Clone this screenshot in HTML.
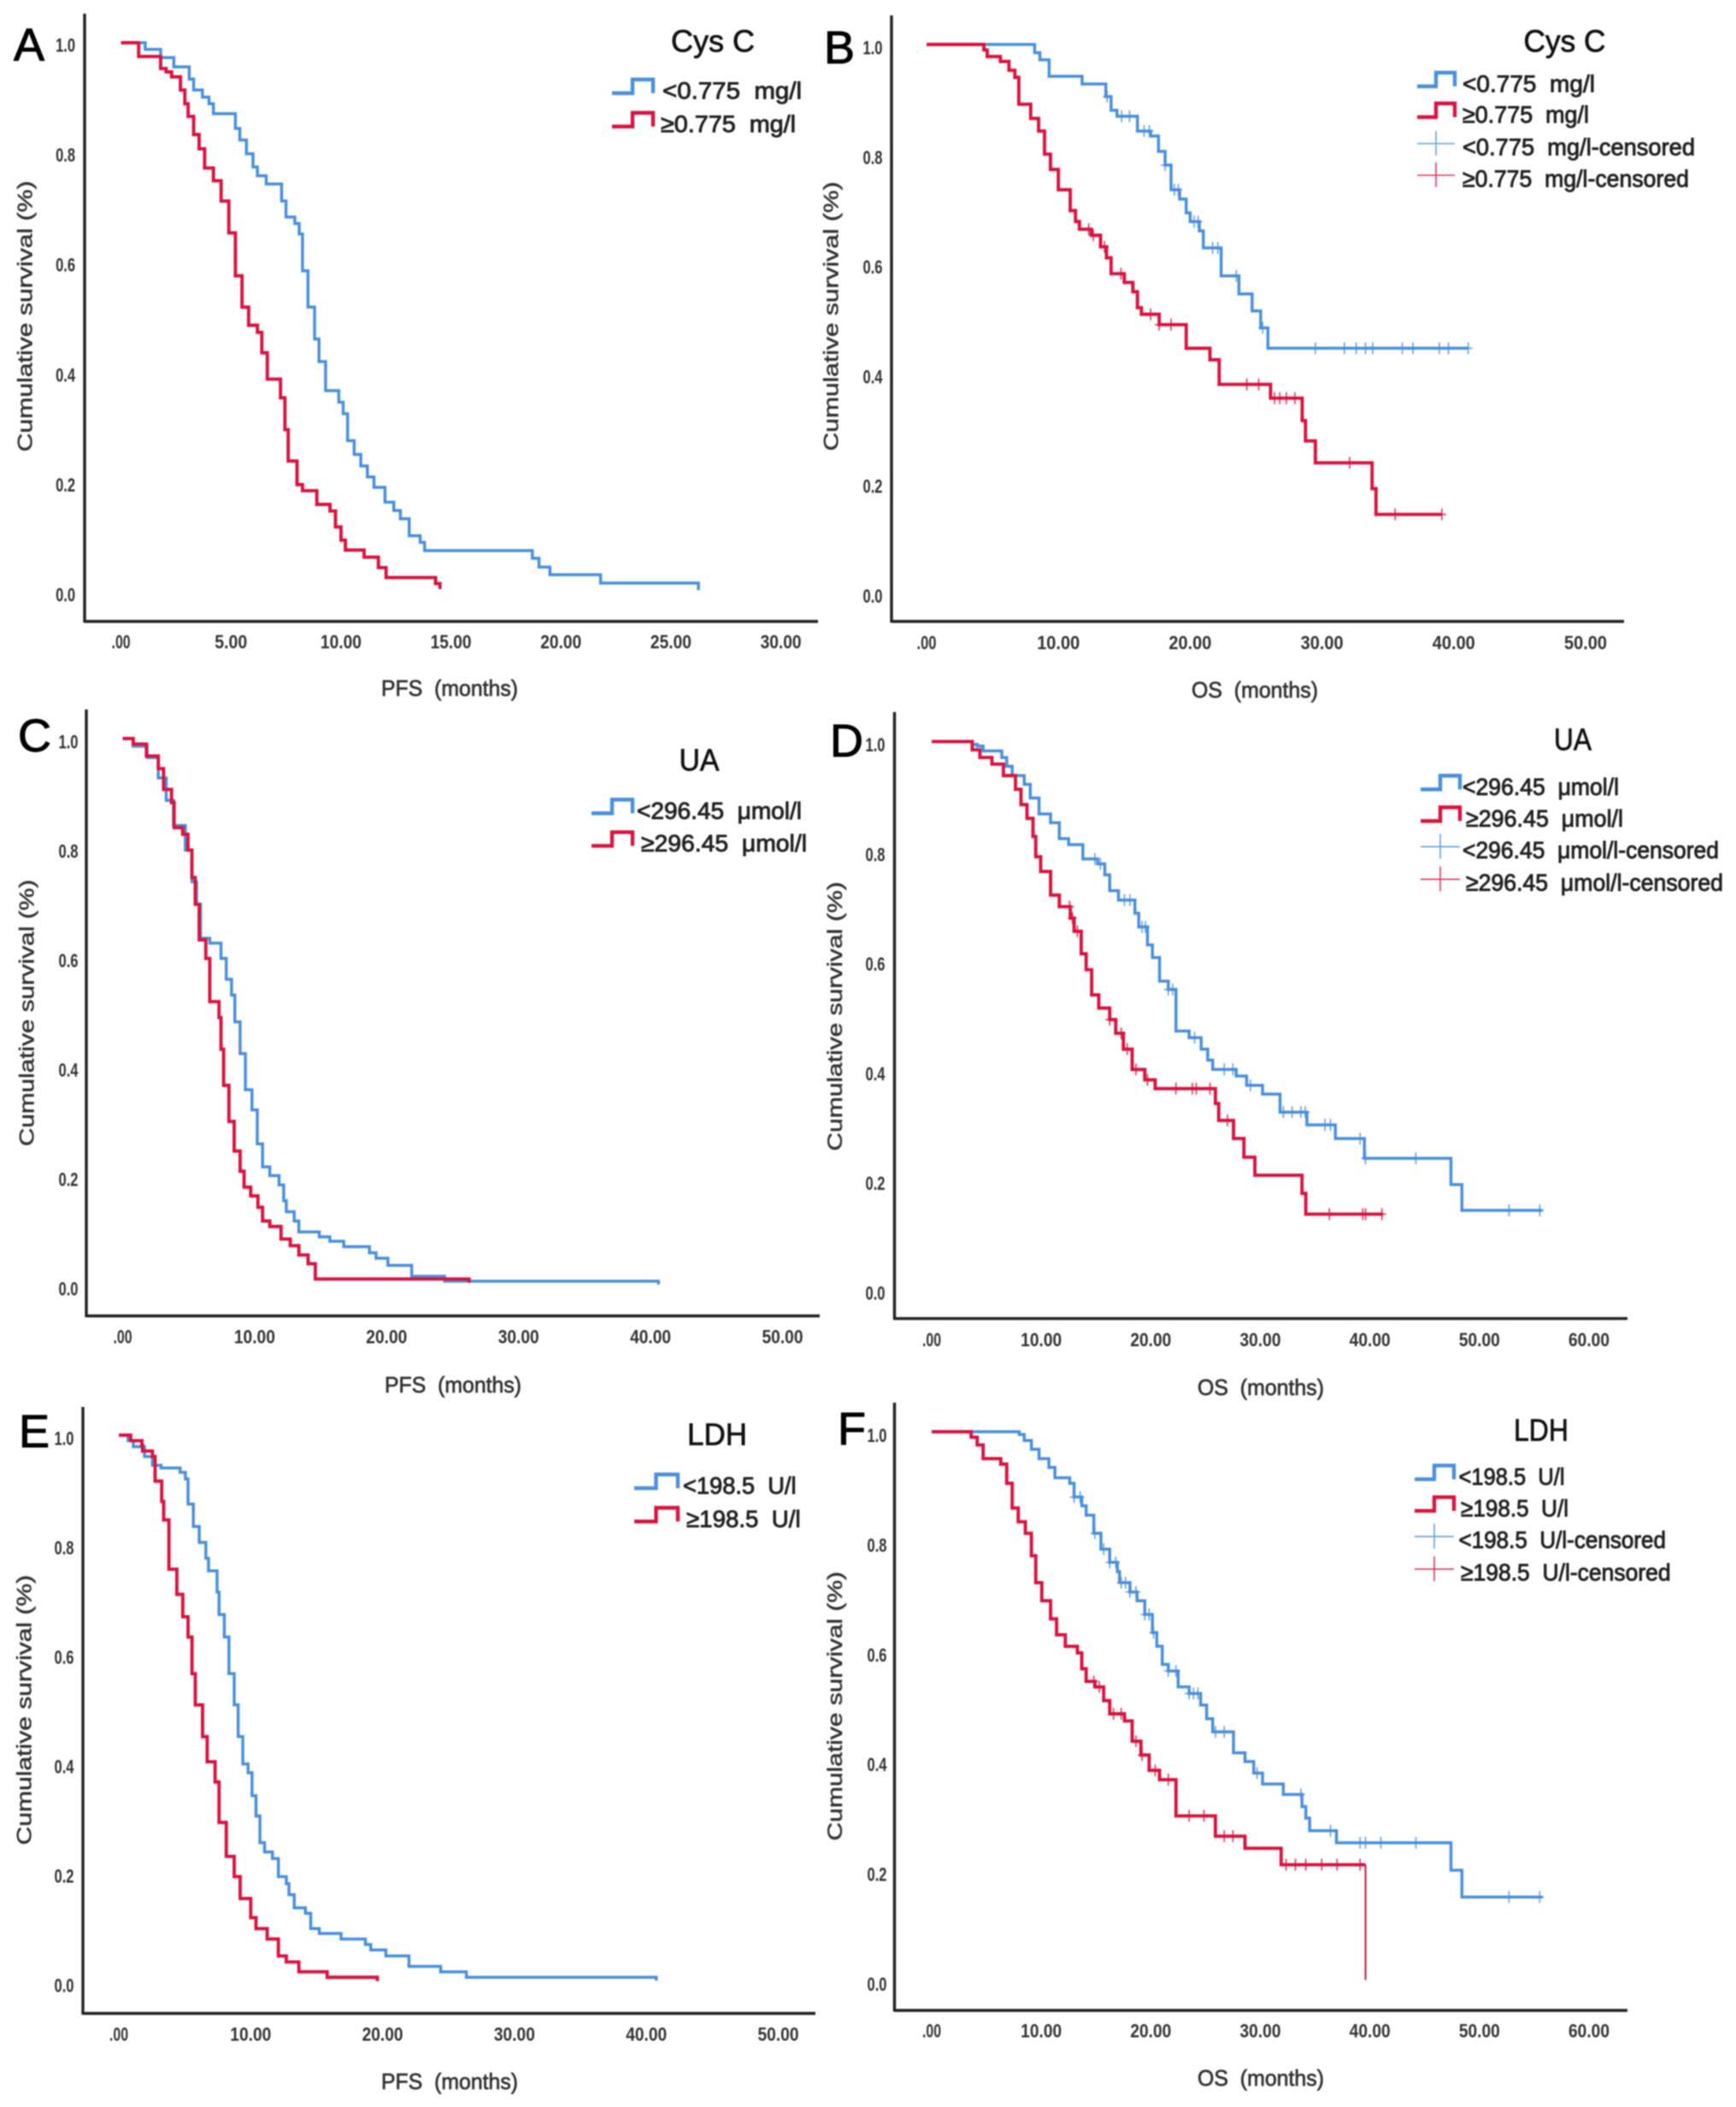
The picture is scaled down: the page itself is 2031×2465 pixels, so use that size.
<!DOCTYPE html>
<html lang="en">
<head>
<meta charset="utf-8">
<title>Kaplan-Meier survival curves</title>
<style>
html,body{margin:0;padding:0;background:#fff;}
svg{display:block;filter:blur(0.85px);}
text{font-family:"Liberation Sans","DejaVu Sans",sans-serif;}
</style>
</head>
<body>
<svg id="figure" xmlns="http://www.w3.org/2000/svg" width="2031" height="2465" viewBox="0 0 2031 2465"></svg>
<script>
/* ---------- tick values ---------- */
const yTicks = [0, 0.2, 0.4, 0.6, 0.8, 1.0];
const yTickLabels = ["0.0", "0.2", "0.4", "0.6", "0.8", "1.0"];
const xTicksA = [0, 5, 10, 15, 20, 25, 30];
const xTickLabelsA = [".00", "5.00", "10.00", "15.00", "20.00", "25.00", "30.00"];
const xTicks50 = [0, 10, 20, 30, 40, 50];
const xTickLabels50 = [".00", "10.00", "20.00", "30.00", "40.00", "50.00"];
const xTicks60 = [0, 10, 20, 30, 40, 50, 60];
const xTickLabels60 = [".00", "10.00", "20.00", "30.00", "40.00", "50.00", "60.00"];

/* ---------- panel A: PFS by Cys C ---------- */
const aTimesLow = [1.1,1.8,2.4,3.1,3.3,3.7,4.0,4.2,5.2,5.4,5.7,6.0,6.2,6.6,7.3,7.5,7.9,8.1,8.25,8.5,8.8,9.0,9.3,9.9,10.1,10.3,10.6,10.9,11.2,11.5,12.0,12.4,12.7,13.1,13.6,13.8,18.7,19.0,19.5,21.8,26.25];
const aSurvLow = [.988,.973,.956,.934,.914,.901,.889,.871,.844,.823,.798,.774,.758,.743,.712,.683,.671,.652,.585,.519,.461,.420,.367,.346,.325,.276,.251,.230,.210,.191,.164,.149,.134,.103,.091,.076,.062,.046,.032,.017,.004];
const aTimesHigh = [.8,1.8,2.05,2.3,2.7,2.9,3.05,3.3,3.55,3.8,4.2,4.55,4.9,5.2,5.5,5.8,6.2,6.4,6.65,7.25,7.45,7.6,8.0,8.25,8.9,9.5,9.75,10.0,10.2,11.05,11.7,12.05,14.3,14.5];
const aSurvHigh = [.975,.953,.947,.938,.914,.889,.866,.833,.807,.772,.749,.712,.654,.576,.519,.486,.473,.436,.388,.354,.296,.239,.196,.185,.160,.148,.119,.095,.077,.064,.045,.027,.016,.006];

/* ---------- panel B: OS by Cys C ---------- */
const bTimesLow = [8.2,8.6,9.3,11.8,13.6,14.0,14.45,16.0,17.0,17.6,18.1,18.55,19.2,19.7,20.0,20.7,21.0,22.35,23.7,24.7,25.35,25.9,41.1];
const bSurvLow = [.985,.972,.942,.928,.905,.880,.869,.842,.833,.805,.780,.735,.718,.693,.677,.660,.629,.578,.545,.514,.483,.446,.446];
const bCensLow = [13.7,14.8,15.4,16.5,16.9,18.1,18.8,19.1,20.3,20.6,21.7,22.1,23.5,25.5,29.5,31.7,32.6,33.3,33.85,36.1,36.9,38.9,39.6,41.1];
const bTimesHigh = [4.35,4.6,5.6,6.25,6.7,7.0,7.9,8.5,8.95,9.4,10.0,10.9,11.3,11.6,12.5,13.2,13.65,14.0,15.0,15.65,16.0,16.3,17.65,19.7,21.5,22.2,26.1,28.5,28.75,29.5,33.8,34.1,39.1];
const bSurvHigh = [.99,.978,.969,.953,.94,.891,.865,.842,.80,.772,.735,.697,.677,.663,.652,.631,.611,.582,.566,.549,.520,.508,.489,.446,.425,.380,.355,.314,.277,.237,.190,.143,.143];
const bCensHigh = [12.3,12.65,13.5,14.75,17.0,17.65,18.55,24.3,25.2,26.4,26.8,27.3,27.95,32.1,35.55,39.1];

/* ---------- panel C: PFS by UA ---------- */
const cTimesLow = [.8,1.85,2.7,3.3,3.85,4.75,5.25,5.6,5.9,6.6,7.45,7.85,8.25,8.5,8.9,9.3,9.8,10.2,10.6,11.15,11.85,12.2,12.4,13.0,13.35,14.9,15.7,16.75,18.7,19.2,20.1,21.9,24.4,40.6];
const cSurvLow = [.986,.965,.928,.887,.841,.796,.738,.697,.635,.626,.598,.56,.531,.482,.424,.358,.321,.259,.217,.201,.184,.155,.135,.118,.098,.089,.081,.071,.060,.050,.037,.017,.008,.002];
const cTimesHigh = [.8,1.8,2.7,3.1,3.7,3.9,4.55,4.95,5.25,5.5,5.8,6.3,6.6,7.3,7.45,7.65,8.05,8.45,8.9,9.2,9.7,10.25,10.6,11.15,12.0,12.7,13.35,14.05,14.6,26.25];
const cSurvHigh = [.99,.968,.945,.907,.883,.837,.825,.796,.746,.697,.632,.598,.519,.490,.432,.366,.30,.246,.209,.18,.164,.143,.118,.108,.085,.073,.056,.040,.012,.005];

/* ---------- panel D: OS by UA ---------- */
const dTimesLow = [3.7,4.15,4.7,6.4,6.85,7.35,8.45,9.0,9.8,10.85,11.65,12.5,13.8,15.15,15.8,16.25,17.05,18.55,18.9,19.7,20.15,20.8,21.6,22.3,23.5,24.6,25.2,25.65,27.8,28.75,30.2,31.8,34.25,36.85,39.5,47.4,48.4,55.75];
const dSurvLow = [.995,.992,.983,.971,.955,.938,.922,.897,.868,.852,.823,.812,.786,.777,.757,.728,.711,.687,.662,.629,.606,.563,.548,.472,.46,.439,.419,.402,.39,.373,.357,.324,.301,.276,.24,.192,.145,.145];
const dCensLow = [14.9,15.4,17.6,18.1,19.2,19.5,21.6,22.0,24.0,26.7,27.5,29.1,32.1,32.9,33.7,34.1,35.9,36.4,39.1,39.6,44.2,52.7,55.5];
const dTimesHigh = [3.7,4.4,5.5,6.55,7.65,8.15,8.7,9.25,9.5,9.95,10.85,11.65,12.65,13.0,13.65,14.1,14.6,15.25,16.25,16.8,17.5,18.3,19.45,20.4,25.9,26.2,27.55,28.5,29.5,33.8,34.15,41.2];
const dSurvHigh = [.985,.971,.959,.938,.913,.885,.86,.827,.79,.763,.72,.699,.678,.654,.613,.584,.538,.514,.493,.468,.439,.402,.383,.367,.34,.309,.276,.242,.209,.176,.138,.138];
const dCensHigh = [12.6,12.85,13.3,16.25,17.3,17.85,18.65,19.7,22.3,23.8,24.15,25.4,27.0,36.3,39.35,39.6,41.1];

/* ---------- panel E: PFS by LDH ---------- */
const eTimesLow = [.7,1.1,1.95,2.55,3.2,4.65,5.05,5.25,5.65,6.1,6.6,6.8,7.45,7.6,8.0,8.35,8.75,9.05,9.4,9.8,10.1,10.4,10.7,11.05,11.65,12.1,12.7,12.9,13.3,14.15,14.55,15.2,16.85,18.7,19.1,20.25,22.0,24.4,26.35,40.75];
const eSurvLow = [.99,.979,.961,.945,.94,.932,.92,.874,.833,.804,.775,.752,.713,.672,.631,.564,.507,.449,.399,.383,.341,.304,.255,.238,.226,.193,.18,.16,.136,.126,.098,.089,.079,.069,.059,.048,.029,.019,.009,.003];
const eTimesHigh = [.9,1.75,1.8,2.55,2.75,3.25,3.4,3.8,4.4,4.85,5.25,5.55,5.8,6.35,6.7,7.3,7.6,8.15,8.75,9.2,10.0,10.4,11.25,12.1,12.7,13.65,15.8,19.6];
const eSurvHigh = [.99,.982,.971,.961,.916,.879,.845,.755,.709,.668,.631,.564,.507,.449,.403,.366,.292,.23,.193,.153,.118,.098,.079,.048,.037,.019,.009,.002];

/* ---------- panel F: OS by LDH ---------- */
const fTimesLow = [8.0,8.45,9.1,9.8,10.7,11.25,12.6,13.0,13.7,14.1,14.8,15.45,16.25,16.95,17.15,18.1,18.75,19.45,20.15,20.55,21.05,21.6,22.5,23.5,24.55,25.1,25.65,27.55,28.6,29.4,30.2,32.1,33.8,34.15,34.5,36.95,47.4,48.4,55.75];
const fSurvLow = [.995,.984,.968,.951,.935,.916,.906,.881,.865,.848,.815,.786,.762,.745,.725,.708,.692,.667,.634,.609,.576,.564,.535,.523,.502,.477,.453,.415,.399,.378,.358,.339,.317,.296,.273,.251,.201,.152,.152];
const fCensLow = [13.0,13.55,14.9,15.7,16.25,16.8,17.3,17.7,18.1,18.65,19.45,19.85,20.25,21.6,22.3,23.5,23.9,24.3,25.9,26.7,29.7,33.7,36.4,39.1,39.6,41.0,44.2,52.7,55.5];
const fTimesHigh = [3.6,4.15,4.7,6.3,6.85,7.35,7.9,8.55,9.1,9.5,10.05,10.85,11.4,12.2,13.3,13.7,14.1,14.9,15.7,16.25,17.6,18.3,19.1,19.85,20.8,22.3,25.9,28.6,31.9,39.6];
const fSurvHigh = [.99,.976,.951,.941,.906,.861,.836,.815,.774,.725,.692,.659,.63,.609,.597,.568,.545,.535,.51,.486,.473,.436,.411,.383,.366,.30,.263,.241,.211,.001];
const fCensHigh = [14.8,15.3,16.6,17.3,18.65,19.2,20.4,21.6,23.5,24.85,26.7,27.5,32.35,33.2,34.15,35.6,37.0,39.1];

/* ---------- colours ---------- */
const BLUE = "#4a90dc";
const RED = "#d81440";
const NS = "http://www.w3.org/2000/svg";
const root = document.getElementById("figure");

function mk(tag, attrs, parent) {
  const node = document.createElementNS(NS, tag);
  for (const k in attrs) node.setAttribute(k, attrs[k]);
  parent.appendChild(node);
  return node;
}

function label(parent, str, x, y, size, len, fill, weight, rotate, bolden) {
  const attrs = {
    x: x, y: y, "font-size": size, fill: fill, "font-weight": weight,
    "text-anchor": "middle", "dominant-baseline": "central",
    textLength: len, lengthAdjust: "spacingAndGlyphs"
  };
  if (rotate) attrs.transform = "rotate(-90 " + x + " " + y + ")";
  if (bolden) { attrs.stroke = fill; attrs["stroke-width"] = bolden; }
  const t = mk("text", attrs, parent);
  t.textContent = str;
  return t;
}

function tickWidth(str, unit) { return str.length === 3 ? unit * 0.46 : str.length === 4 ? unit * 0.79 : unit; }

const panels = [
  { id:"a", letter:"A", lx:16, ly:71, axisX:99, axisTop:16, axisBottom:727, axisRight:957,
    x0:141.6, xEnd:913.6, xMax:30, y1:50, y0:693, yLabelX:76.6, xLabelY:751, yShift:3, tickW:48,
    xTicks:xTicksA, xLabels:xTickLabelsA, xTitle:"PFS\u00a0\u00a0(months)", xTitleX:526, xTitleY:805, xTitleW:160,
    yTitleX:30, yTitleY:370, yTitleW:317,
    title:"Cys C", titleX:834, titleY:48, titleW:98, symL:716, symR:764,
    legend:[["<0.775\u00a0\u00a0mg/l",106,775,163],["\u22650.775\u00a0\u00a0mg/l",145,773,158]],
    low:[aTimesLow,aSurvLow,null], high:[aTimesHigh,aSurvHigh,null] },
  { id:"b", letter:"B", lx:964, ly:74, axisX:1043, axisTop:18, axisBottom:727, axisRight:1900,
    x0:1084, xEnd:1855, xMax:50, y1:52, y0:693.5, yLabelX:1021, xLabelY:752, yShift:4, tickW:50,
    xTicks:xTicks50, xLabels:xTickLabels50, xTitle:"OS\u00a0\u00a0(months)", xTitleX:1468, xTitleY:807, xTitleW:148,
    yTitleX:973, yTitleY:370, yTitleW:315,
    title:"Cys C", titleX:1830.5, titleY:48, titleW:96, symL:1658, symR:1702,
    legend:[["<0.775\u00a0\u00a0mg/l",98,1711,155],["\u22650.775\u00a0\u00a0mg/l",134,1711,148],["<0.775\u00a0\u00a0mg/l-censored",172,1711,272],["\u22650.775\u00a0\u00a0mg/l-censored",209,1711,265]],
    low:[bTimesLow,bSurvLow,bCensLow], high:[bTimesHigh,bSurvHigh,bCensHigh] },
  { id:"c", letter:"C", lx:21, ly:879, axisX:101, axisTop:830, axisBottom:1539.5, axisRight:959,
    x0:143.5, xEnd:915.5, xMax:50, y1:864, y0:1504, yLabelX:80, xLabelY:1564, yShift:4, tickW:48,
    xTicks:xTicks50, xLabels:xTickLabels50, xTitle:"PFS\u00a0\u00a0(months)", xTitleX:530, xTitleY:1620, xTitleW:160,
    yTitleX:32, yTitleY:1185, yTitleW:312,
    title:"UA", titleX:818, titleY:889, titleW:47, symL:692, symR:740,
    legend:[["<296.45\u00a0\u00a0\u03bcmol/l",948.5,745,193],["\u2265296.45\u00a0\u00a0\u03bcmol/l",986.6,750,194]],
    low:[cTimesLow,cSurvLow,null], high:[cTimesHigh,cSurvHigh,null] },
  { id:"d", letter:"D", lx:971, ly:885, axisX:1046.5, axisTop:833, axisBottom:1542.6, axisRight:1904,
    x0:1090, xEnd:1859, xMax:60, y1:867.6, y0:1509, yLabelX:1024, xLabelY:1567.5, yShift:4, tickW:48,
    xTicks:xTicks60, xLabels:xTickLabels60, xTitle:"OS\u00a0\u00a0(months)", xTitleX:1475, xTitleY:1623, xTitleW:148,
    yTitleX:977.5, yTitleY:1189, yTitleW:315,
    title:"UA", titleX:1840, titleY:865, titleW:44, symL:1662, symR:1708,
    legend:[["<296.45\u00a0\u00a0\u03bcmol/l",920.5,1711,183],["\u2265296.45\u00a0\u00a0\u03bcmol/l",957.5,1715,184],["<296.45\u00a0\u00a0\u03bcmol/l-censored",994.6,1711,300],["\u2265296.45\u00a0\u00a0\u03bcmol/l-censored",1032.7,1715,301]],
    low:[dTimesLow,dSurvLow,dCensLow], high:[dTimesHigh,dSurvHigh,dCensHigh] },
  { id:"e", letter:"E", lx:22, ly:1693, axisX:97, axisTop:1646, axisBottom:2355.5, axisRight:954,
    x0:139, xEnd:910.5, xMax:50, y1:1679, y0:2319, yLabelX:75, xLabelY:2380, yShift:4, tickW:48,
    xTicks:xTicks50, xLabels:xTickLabels50, xTitle:"PFS\u00a0\u00a0(months)", xTitleX:526, xTitleY:2435, xTitleW:160,
    yTitleX:29, yTitleY:2000.5, yTitleW:316,
    title:"LDH", titleX:839, titleY:1678, titleW:70, symL:742, symR:793,
    legend:[["<198.5\u00a0\u00a0U/l",1738,799,132.5],["\u2265198.5\u00a0\u00a0U/l",1777,803,133.6]],
    low:[eTimesLow,eSurvLow,null], high:[eTimesHigh,eSurvHigh,null] },
  { id:"f", letter:"F", lx:980, ly:1690, axisX:1046.5, axisTop:1641, axisBottom:2352, axisRight:1904,
    x0:1090, xEnd:1859, xMax:60, y1:1675, y0:2317, yLabelX:1026, xLabelY:2376, yShift:4.5, tickW:48,
    xTicks:xTicks60, xLabels:xTickLabels60, xTitle:"OS\u00a0\u00a0(months)", xTitleX:1475, xTitleY:2431, xTitleW:148,
    yTitleX:977.5, yTitleY:1996, yTitleW:315,
    title:"LDH", titleX:1803, titleY:1673, titleW:64, symL:1655, symR:1701,
    legend:[["<198.5\u00a0\u00a0U/l",1727.6,1706.5,124],["\u2265198.5\u00a0\u00a0U/l",1764.6,1709,126],["<198.5\u00a0\u00a0U/l-censored",1801.6,1706.5,242.5],["\u2265198.5\u00a0\u00a0U/l-censored",1839.7,1709,245.6]],
    low:[fTimesLow,fSurvLow,fCensLow], high:[fTimesHigh,fSurvHigh,fCensHigh], thinLastHigh:true }
];

function survivalAt(times, surv, t) {
  let s = 1;
  for (let i = 0; i < times.length; i++) { if (times[i] <= t) s = surv[i]; else break; }
  return s;
}

function drawCurve(p, g, data, color, width, xOf, yOf, thinLast) {
  const times = data[0], surv = data[1], cens = data[2];
  const n = thinLast ? times.length - 1 : times.length;
  let d = "M" + xOf(0) + " " + yOf(1);
  for (let i = 0; i < n; i++) d += "H" + xOf(times[i]) + "V" + yOf(surv[i]);
  if (thinLast) d += "H" + xOf(times[n]);
  const line = mk("path", { d: d, fill: "none", stroke: color, "stroke-width": width, "stroke-linejoin": "miter" }, g);
  
  
  if (thinLast) {
    const last = times.length - 1;
    const tail = mk("path", { d: "M" + xOf(times[last]) + " " + yOf(surv[last - 1]) + "V" + yOf(surv[last]), fill: "none", stroke: color, "stroke-width": 2 }, g);
    
    
  }
  if (cens) {
    cens.forEach(function (t) {
      const cx = xOf(t), cy = yOf(survivalAt(times, surv, t));
      const mark = mk("path", { d: "M" + (cx - 5) + " " + cy + "H" + (cx + 5) + "M" + cx + " " + (cy - 7) + "V" + (cy + 7), fill: "none", stroke: color, "stroke-width": 1.6, opacity: 0.85 }, g);
      
      
    });
  }
}

panels.forEach(function (p) {
  const g = mk("g", {}, root);
  
  

  const xOf = function (t) { return p.x0 + t * (p.xEnd - p.x0) / p.xMax; };
  const yOf = function (s) { return p.y0 + s * (p.y1 - p.y0); };

  const yAxis = mk("line", { x1: p.axisX, x2: p.axisX, y1: p.axisTop, y2: p.axisBottom + 1.5, stroke: "#222", "stroke-width": 3.4 }, g);
  
  
  const xAxis = mk("line", { x1: p.axisX, x2: p.axisRight, y1: p.axisBottom, y2: p.axisBottom, stroke: "#222", "stroke-width": 3.4 }, g);
  
  

  yTicks.forEach(function (v, i) {
    const t = label(g, yTickLabels[i], p.yLabelX, yOf(v) + p.yShift, 22, 23, "#333", "bold");
    
    
  });
  p.xTicks.forEach(function (v, i) {
    const s = p.xLabels[i];
    const t = label(g, s, xOf(v), p.xLabelY, 22, tickWidth(s, p.tickW), "#333", "bold");
    
    
  });

  const xt = label(g, p.xTitle, p.xTitleX, p.xTitleY, 26, p.xTitleW, "#333", "normal", false, 0.7);
  
  
  const yt = label(g, "Cumulative survival (%)", p.yTitleX, p.yTitleY, 24, p.yTitleW, "#333", "normal", true, 0.5);
  
  

  const letter = mk("text", { x: p.lx, y: p.ly, "font-size": 54, fill: "#000", stroke: "#000", "stroke-width": 1 }, g);
  letter.textContent = p.letter;
  
  

  drawCurve(p, g, p.low, BLUE, 3.5, xOf, yOf, false);
  drawCurve(p, g, p.high, RED, 3.9, xOf, yOf, !!p.thinLastHigh);

  const title = label(g, p.title, p.titleX, p.titleY, 36, p.titleW, "#111", "normal", false, 0.7);
  
  

  p.legend.forEach(function (row, i) {
    const color = i % 2 === 0 ? BLUE : RED;
    const cy = row[1];
    let sym;
    if (i < 2) {
      const mid = (p.symL + p.symR) / 2;
      sym = mk("path", { d: "M" + p.symL + " " + (cy + 3) + "H" + mid + "V" + (cy - 13) + "H" + p.symR + "V" + (cy + 3), fill: "none", stroke: color, "stroke-width": 4.4 }, g);
    } else {
      const mid = (p.symL + p.symR) / 2;
      sym = mk("path", { d: "M" + p.symL + " " + (cy - 4) + "H" + p.symR + "M" + mid + " " + (cy - 19) + "V" + (cy + 10), fill: "none", stroke: color, "stroke-width": 1.6, opacity: 0.85 }, g);
    }
    
    
    const t = label(g, row[0], row[2] + row[3] / 2, cy, 28, row[3], "#222", "normal", false, 0.9);
    
    
  });
});
</script>
</body>
</html>
